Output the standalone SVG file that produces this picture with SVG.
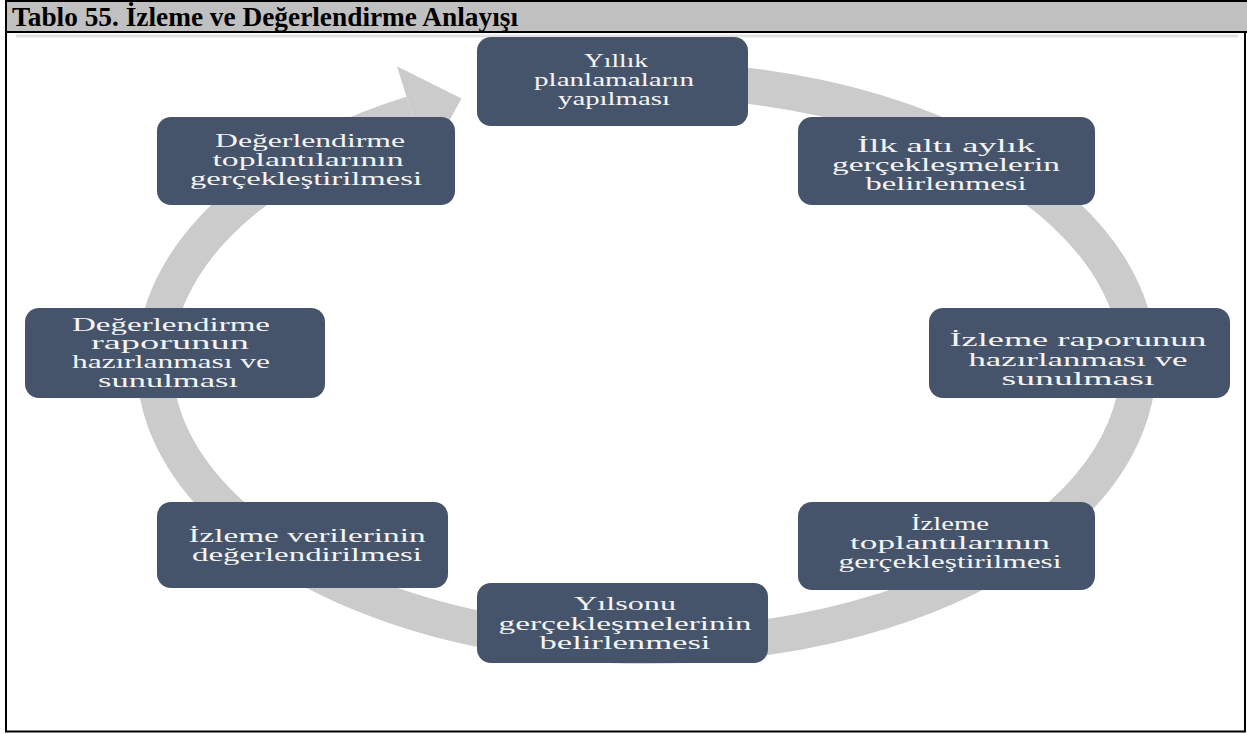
<svg xmlns="http://www.w3.org/2000/svg" width="1247" height="734" viewBox="0 0 1247 734">
<style>
.node{fill:#46546b;}
.t{font-family:"Liberation Serif","Times New Roman",serif;font-size:18px;fill:#f4f4f4;text-anchor:middle;}
.title{font-family:"Liberation Serif","Times New Roman",serif;font-size:27px;font-weight:bold;fill:#000;}
</style>
<rect x="0" y="0" width="1247" height="734" fill="#ffffff"/>
<rect x="5" y="1" width="1242" height="31" fill="#c0c0c0"/>
<line x1="5" y1="1" x2="1247" y2="1" stroke="#000" stroke-width="2"/>
<line x1="5" y1="32" x2="1247" y2="32" stroke="#000" stroke-width="2"/>
<line x1="6" y1="1" x2="6" y2="732" stroke="#000" stroke-width="2"/>
<line x1="1245" y1="32" x2="1245" y2="732" stroke="#000" stroke-width="2"/>
<line x1="5" y1="731.5" x2="1246" y2="731.5" stroke="#000" stroke-width="2"/>
<text class="title" x="12" y="26" textLength="506" lengthAdjust="spacingAndGlyphs">Tablo 55. İzleme ve Değerlendirme Anlayışı</text>
<line x1="16" y1="36" x2="1238" y2="36" stroke="#e2e2e2" stroke-width="3"/>
<g id="connectors">
<path d="M 517.7 89.6 A 492 283 0 1 1 411.8 114.0" fill="none" stroke="#cbcbcb" stroke-width="36"/>
<polygon points="461.5,98.6 397.0,66.3 426.6,161.8" fill="#cbcbcb"/>
</g>
<g id="node1">
<rect class="node" x="477" y="37" width="271" height="89" rx="14"/>
<text class="t" x="616" y="67" textLength="64" lengthAdjust="spacingAndGlyphs">Yıllık</text>
<text class="t" x="614" y="86" textLength="160" lengthAdjust="spacingAndGlyphs">planlamaların</text>
<text class="t" x="614" y="105" textLength="112" lengthAdjust="spacingAndGlyphs">yapılması</text>
</g>
<g id="node2">
<rect class="node" x="798" y="117" width="297" height="88" rx="14"/>
<text class="t" x="946" y="152" textLength="178" lengthAdjust="spacingAndGlyphs">İlk altı aylık</text>
<text class="t" x="946" y="171" textLength="228" lengthAdjust="spacingAndGlyphs">gerçekleşmelerin</text>
<text class="t" x="946" y="190" textLength="161" lengthAdjust="spacingAndGlyphs">belirlenmesi</text>
</g>
<g id="node3">
<rect class="node" x="929" y="308" width="301" height="90" rx="14"/>
<text class="t" x="1078" y="346" textLength="257" lengthAdjust="spacingAndGlyphs">İzleme raporunun</text>
<text class="t" x="1078" y="366" textLength="219" lengthAdjust="spacingAndGlyphs">hazırlanması ve</text>
<text class="t" x="1078" y="385" textLength="153" lengthAdjust="spacingAndGlyphs">sunulması</text>
</g>
<g id="node4">
<rect class="node" x="798" y="502" width="297" height="88" rx="14"/>
<text class="t" x="950" y="530" textLength="78" lengthAdjust="spacingAndGlyphs">İzleme</text>
<text class="t" x="950" y="549" textLength="200" lengthAdjust="spacingAndGlyphs">toplantılarının</text>
<text class="t" x="950" y="568" textLength="223" lengthAdjust="spacingAndGlyphs">gerçekleştirilmesi</text>
</g>
<g id="node5">
<rect class="node" x="477" y="583" width="291" height="80" rx="14"/>
<text class="t" x="625" y="610" textLength="102" lengthAdjust="spacingAndGlyphs">Yılsonu</text>
<text class="t" x="625" y="630" textLength="253" lengthAdjust="spacingAndGlyphs">gerçekleşmelerinin</text>
<text class="t" x="625" y="649" textLength="171" lengthAdjust="spacingAndGlyphs">belirlenmesi</text>
</g>
<g id="node6">
<rect class="node" x="157" y="502" width="291" height="86" rx="14"/>
<text class="t" x="307" y="542" textLength="237" lengthAdjust="spacingAndGlyphs">İzleme verilerinin</text>
<text class="t" x="307" y="561" textLength="230" lengthAdjust="spacingAndGlyphs">değerlendirilmesi</text>
</g>
<g id="node7">
<rect class="node" x="25" y="308" width="300" height="90" rx="14"/>
<text class="t" x="171" y="331" textLength="198" lengthAdjust="spacingAndGlyphs">Değerlendirme</text>
<text class="t" x="170" y="349" textLength="158" lengthAdjust="spacingAndGlyphs">raporunun</text>
<text class="t" x="171" y="368" textLength="198" lengthAdjust="spacingAndGlyphs">hazırlanması ve</text>
<text class="t" x="168" y="387" textLength="140" lengthAdjust="spacingAndGlyphs">sunulması</text>
</g>
<g id="node8">
<rect class="node" x="157" y="117" width="298" height="88" rx="14"/>
<text class="t" x="310" y="147" textLength="190" lengthAdjust="spacingAndGlyphs">Değerlendirme</text>
<text class="t" x="308" y="166" textLength="191" lengthAdjust="spacingAndGlyphs">toplantılarının</text>
<text class="t" x="306" y="185" textLength="232" lengthAdjust="spacingAndGlyphs">gerçekleştirilmesi</text>
</g>
</svg>
